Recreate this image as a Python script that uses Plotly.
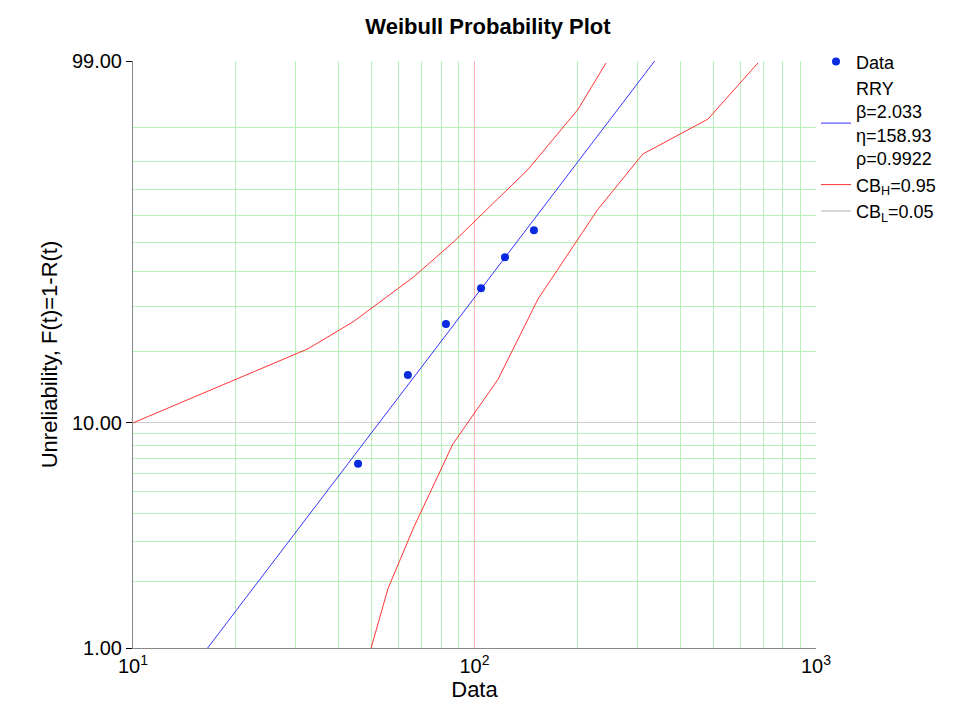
import numpy as np
import plotly.graph_objects as go

# failure data (time, unreliability %)
data_t = [45.6, 63.8, 82.5, 104.5, 122.8, 149.3]
data_f = [6.65, 15.95, 25.6, 34.95, 44.8, 54.5]

# fitted parameters
beta = 2.033
eta = 158.93
rho = 0.9922
fit_t = [10, 1000]

# confidence bounds
cbh_t = [10, 32.5, 44.1, 66.1, 86.5, 143.6, 201, 242.7]
cbh_f = [10, 20.4, 26.1, 38.2, 50.0, 77.4, 93.8, 98.9]
cbl_t = [49.8, 55.8, 66.1, 86.5, 117.2, 153.5, 230, 311, 483, 676]
cbl_f = [1.0, 1.85, 3.43, 8.12, 15.3, 31.9, 62.5, 82.5, 91.9, 98.9]

y_ticks = [1, 10, 99]
y_minor = [2, 3, 4, 5, 6, 7, 8, 9, 20, 30, 40, 50, 60, 70, 80, 90]


def wb(p):
    p = np.asarray(p, dtype=float) / 100.0
    return np.log(-np.log(1 - p))


fit_w = beta * (np.log(fit_t) - np.log(eta))

fig = go.Figure()
fig.add_trace(go.Scatter(x=data_t, y=wb(data_f), mode='markers', name='Data',
                         marker=dict(color='#0a2be0', size=8)))
fig.add_trace(go.Scatter(x=fit_t, y=fit_w, mode='lines',
                         name='RRY<br>β=%.3f<br>η=%.2f<br>ρ=%.4f' % (beta, eta, rho),
                         line=dict(color='blue', width=0.8)))
fig.add_trace(go.Scatter(x=cbh_t, y=wb(cbh_f), mode='lines', name='CB<sub>H</sub>=0.95',
                         line=dict(color='red', width=0.8)))
fig.add_trace(go.Scatter(x=cbl_t, y=wb(cbl_f), mode='lines', showlegend=False,
                         line=dict(color='red', width=0.8)))
fig.add_trace(go.Scatter(x=[None], y=[None], mode='lines', name='CB<sub>L</sub>=0.05',
                         line=dict(color='#9a9a9a', width=0.8)))

font = 'Liberation Sans, Arial, sans-serif'
fig.update_layout(
    width=960, height=720, plot_bgcolor='white', paper_bgcolor='white',
    margin=dict(l=125, r=152, t=53, b=80),
    font=dict(family=font, color='black'),
    title=dict(text='<b>Weibull Probability Plot</b>', x=0.5, xanchor='center',
               y=0.985, yanchor='top', font=dict(size=22), automargin=False),
    legend=dict(x=1.0, y=1.03, xanchor='left', yanchor='top', font=dict(size=18),
                bgcolor='rgba(0,0,0,0)', tracegroupgap=0),
    xaxis=dict(type='log', range=[1, 3], automargin=False,
               title=dict(text='Data', font=dict(size=22), standoff=2),
               tickvals=[10, 100, 1000],
               ticktext=['10<sup>1</sup>', '10<sup>2</sup>', '10<sup>3</sup>'],
               tickfont=dict(size=20), showgrid=True, gridcolor='#ffb0b0', gridwidth=1,
               minor=dict(showgrid=True, gridcolor='#b8f0b8', dtick='D1', ticks=''),
               showline=True, linecolor='#888888', zeroline=False),
    yaxis=dict(range=[float(wb(1)), float(wb(99))], automargin=False,
               title=dict(text='Unreliability, F(t)=1-R(t)', font=dict(size=22), standoff=8),
               tickvals=list(wb(y_ticks)), ticktext=['%.2f' % v for v in y_ticks],
               tickfont=dict(size=20), ticks='outside', ticklen=6, tickcolor='black',
               showgrid=True, gridcolor='#cccccc',
               minor=dict(showgrid=True, gridcolor='#b8f0b8', tickvals=list(wb(y_minor))),
               showline=True, linecolor='#888888', zeroline=False),
)

fig.write_html("out.html")
